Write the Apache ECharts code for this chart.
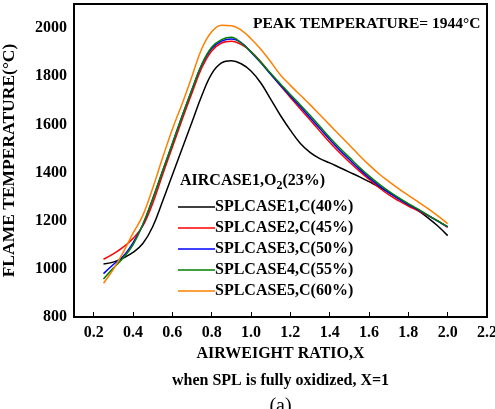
<!DOCTYPE html>
<html>
<head>
<meta charset="utf-8">
<script src="https://cdn.jsdelivr.net/npm/echarts@6/dist/echarts.min.js"></script>
<style>
  html, body { margin: 0; padding: 0; background: #fff; }
  #chart { width: 495px; height: 409px; }
</style>
</head>
<body>
<div id="chart"></div>
<script>
// Air weight ratio X (same grid for every case)
const ratioX = [0.25, 0.30, 0.35, 0.40, 0.45, 0.50, 0.55, 0.60, 0.65, 0.70, 0.75, 0.80,
  0.85, 0.90, 0.95, 1.00, 1.05, 1.10, 1.15, 1.20, 1.25, 1.30, 1.35, 1.40,
  1.45, 1.50, 1.55, 1.60, 1.65, 1.70, 1.75, 1.80, 1.85, 1.90, 1.95, 2.00];

// Flame temperature (°C) for each SPL case
const splCase1 = [1020, 1028, 1045, 1068, 1105, 1175, 1280, 1390, 1500, 1610, 1720, 1810,
  1855, 1864, 1852, 1822, 1772, 1705, 1637, 1576, 1522, 1484, 1458, 1440,
  1421, 1402, 1383, 1362, 1341, 1318, 1294, 1268, 1242, 1212, 1178, 1138];
const splCase2 = [1040, 1062, 1090, 1126, 1178, 1272, 1390, 1505, 1620, 1730, 1835, 1905,
  1938, 1945, 1932, 1902, 1860, 1810, 1760, 1712, 1665, 1619, 1572, 1526,
  1483, 1444, 1407, 1372, 1338, 1308, 1283, 1261, 1241, 1221, 1199, 1172];
const splCase3 = [980, 1018, 1052, 1108, 1183, 1290, 1405, 1520, 1635, 1745, 1848, 1915,
  1946, 1955, 1940, 1900, 1856, 1808, 1763, 1718, 1674, 1629, 1583, 1537,
  1494, 1454, 1415, 1379, 1346, 1317, 1291, 1267, 1245, 1222, 1198, 1174];
const splCase4 = [958, 1003, 1045, 1100, 1185, 1290, 1405, 1520, 1635, 1745, 1850, 1920,
  1952, 1962, 1938, 1902, 1858, 1812, 1768, 1724, 1682, 1638, 1592, 1546,
  1503, 1463, 1423, 1386, 1353, 1323, 1296, 1271, 1248, 1223, 1199, 1175];
const splCase5 = [940, 998, 1068, 1148, 1222, 1335, 1460, 1580, 1686, 1800, 1915, 1985,
  2012, 2010, 1992, 1956, 1912, 1860, 1805, 1762, 1722, 1682, 1640, 1598,
  1556, 1514, 1472, 1432, 1395, 1363, 1333, 1305, 1278, 1250, 1220, 1188];

const caseNames = ['SPLCASE1,C(40%)', 'SPLCASE2,C(45%)', 'SPLCASE3,C(50%)',
  'SPLCASE4,C(55%)', 'SPLCASE5,C(60%)'];
const caseColors = ['#000000', '#ff0000', '#0000ff', '#008000', '#ff8000'];
const caseValues = [splCase1, splCase2, splCase3, splCase4, splCase5];

// Tick labels
const xTicks = [0.2, 0.4, 0.6, 0.8, 1.0, 1.2, 1.4, 1.6, 1.8, 2.0, 2.2];
const yTicks = [800, 1000, 1200, 1400, 1600, 1800, 2000];

const FONT = '"Liberation Serif", "Times New Roman", serif';

const series = caseValues.map((vals, i) => ({
  name: caseNames[i],
  type: 'line',
  smooth: 0.4,
  symbol: 'none',
  lineStyle: { color: caseColors[i], width: 1.5 },
  itemStyle: { color: caseColors[i] },
  data: ratioX.map((x, k) => [x, vals[k]])
}));

const chart = echarts.init(document.getElementById('chart'), null, { renderer: 'canvas' });
chart.setOption({
  animation: false,
  backgroundColor: '#ffffff',
  textStyle: { fontFamily: FONT },
  grid: {
    left: 74, right: 8, top: 4, bottom: 92,
    outerBoundsMode: 'none',
    containLabel: false,
    show: true, borderColor: '#000', borderWidth: 2
  },
  title: [
    {
      text: 'PEAK TEMPERATURE= 1944°C',
      left: 253, top: 16,
      padding: 0,
      textStyle: { fontFamily: FONT, fontWeight: 'bold', fontSize: 15.5, color: '#000' }
    },
    {
      text: '{m|AIRCASE1,O}{s|2}{m|(23%)}',
      left: 180, top: 170,
      padding: 0,
      textStyle: {
        rich: {
          m: { fontFamily: FONT, fontWeight: 'bold', fontSize: 16, color: '#000', lineHeight: 22 },
          s: { fontFamily: FONT, fontWeight: 'bold', fontSize: 12, color: '#000', verticalAlign: 'bottom', lineHeight: 22 }
        }
      }
    }
  ],
  legend: {
    orient: 'vertical',
    left: 178, top: 199,
    padding: 0,
    icon: 'rect',
    itemWidth: 37, itemHeight: 1.5, itemGap: 5,
    textStyle: { fontFamily: FONT, fontWeight: 'bold', fontSize: 16, color: '#000', lineHeight: 16, padding: [0, 0, 0, -5] },
    data: caseNames
  },
  xAxis: {
    type: 'value',
    min: 0.1, max: 2.2,
    name: '{b|AIRWEIGHT RATIO,X}\n{b|when SPL is fully oxidized, X=1}\n{a|(a)}',
    nameLocation: 'middle',
    nameGap: 22,
    nameTextStyle: {
      rich: {
        b: { fontFamily: FONT, fontWeight: 'bold', fontSize: 16, color: '#000', lineHeight: 27 },
        a: { fontFamily: FONT, fontSize: 20, color: '#000', lineHeight: 25 }
      }
    },
    axisLine: { show: true, lineStyle: { color: '#000', width: 2 } },
    axisTick: { show: true, inside: true, length: 5, customValues: xTicks, lineStyle: { color: '#000', width: 1 } },
    axisLabel: {
      customValues: xTicks,
      margin: 8,
      formatter: v => v.toFixed(1),
      fontFamily: FONT, fontWeight: 'bold', fontSize: 16, color: '#000'
    },
    splitLine: { show: false }
  },
  yAxis: {
    type: 'value',
    min: 800, max: 2100,
    name: 'FLAME TEMPERATURE(°C)',
    nameLocation: 'middle',
    nameGap: 56,
    nameTextStyle: { fontFamily: FONT, fontWeight: 'bold', fontSize: 17.5, color: '#000' },
    axisLine: { show: true, lineStyle: { color: '#000', width: 2 } },
    axisTick: { show: false },
    axisLabel: {
      customValues: yTicks,
      margin: 7,
      formatter: v => String(v),
      fontFamily: FONT, fontWeight: 'bold', fontSize: 16, color: '#000'
    },
    splitLine: { show: false }
  },
  series: series
});
</script>
</body>
</html>
